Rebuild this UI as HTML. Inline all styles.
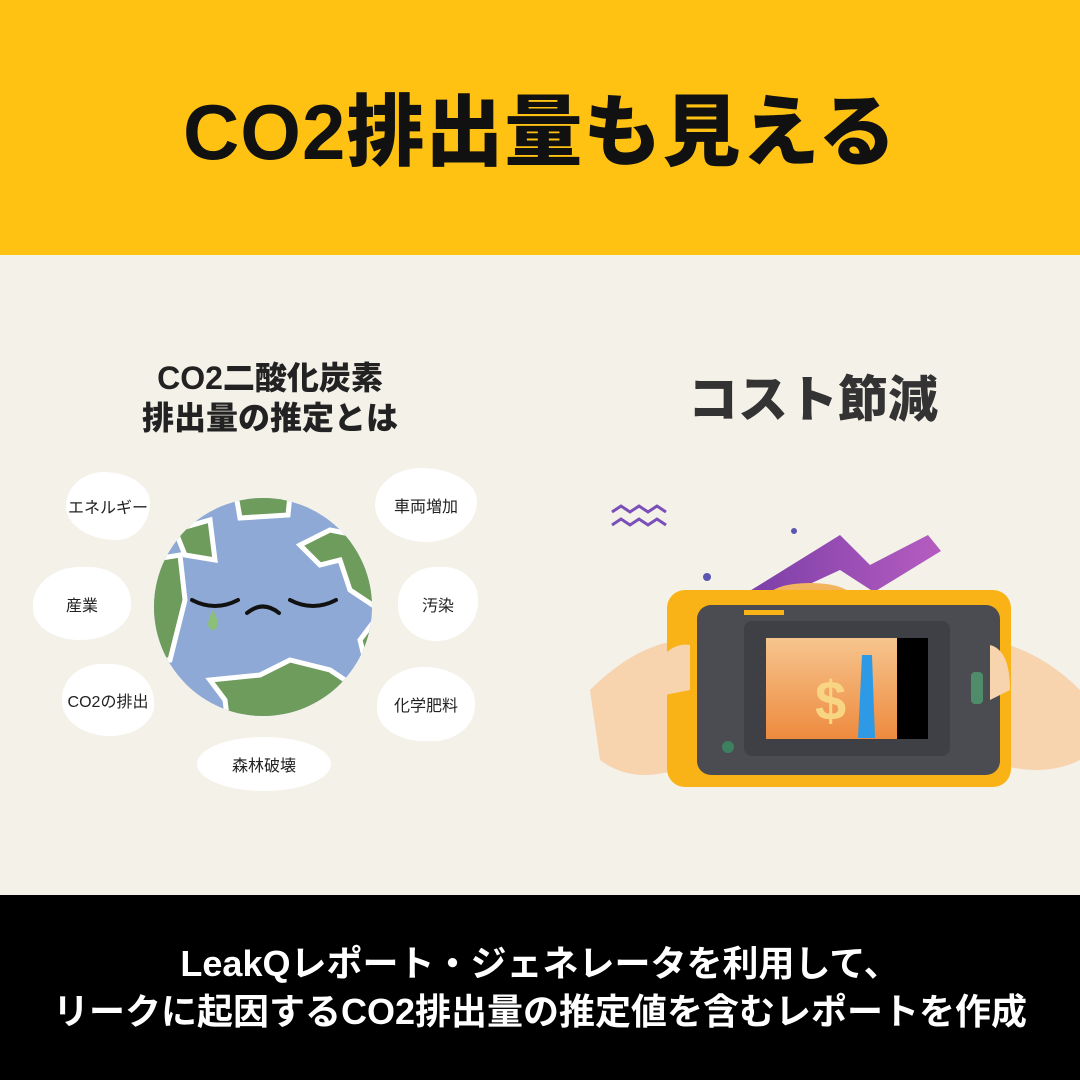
<!DOCTYPE html>
<html><head><meta charset="utf-8"><style>
*{margin:0;padding:0;box-sizing:border-box}
body{width:1080px;height:1080px;position:relative;overflow:hidden;background:#F4F1E9;font-family:"Liberation Sans","Noto Sans CJK JP",sans-serif}
.top{position:absolute;left:0;top:0;width:1080px;height:255px;background:#FFC213}
.top h1{position:absolute;left:0;width:1080px;top:70px;text-align:center;font-size:78px;font-weight:900;color:#111;letter-spacing:1px}
.bot{position:absolute;left:0;top:895px;width:1080px;height:185px;background:#000;color:#fff;text-align:center;font-size:36px;font-weight:700;line-height:48px}
.bot div{position:absolute;left:0;width:1080px}
.blob{position:absolute;background:#fff;display:flex;align-items:center;justify-content:center;font-size:16px;color:#222}
.h{position:absolute;font-weight:900;color:#222}
</style></head><body>
<div class="top"><h1>CO2排出量も見える</h1></div>

<div class="h" style="left:110px;top:358px;width:320px;text-align:center;font-size:32px;line-height:40px">CO2二酸化炭素<br>排出量の推定とは</div>
<div class="h" style="left:688px;top:360px;font-size:50px;color:#333">コスト節減</div>

<div class="blob" style="left:66px;top:472px;width:84px;height:68px;border-radius:45% 55% 40% 60%/50% 45% 55% 50%">エネルギー</div>
<div class="blob" style="left:33px;top:567px;width:98px;height:73px;border-radius:50% 45% 55% 50%/55% 50% 50% 45%">産業</div>
<div class="blob" style="left:62px;top:664px;width:92px;height:72px;border-radius:45% 50% 50% 55%/50% 55% 45% 50%">CO2の排出</div>
<div class="blob" style="left:197px;top:737px;width:134px;height:54px;border-radius:50%/50%">森林破壊</div>
<div class="blob" style="left:375px;top:468px;width:102px;height:74px;border-radius:45% 55% 50% 50%/50% 45% 55% 50%">車両増加</div>
<div class="blob" style="left:398px;top:567px;width:80px;height:74px;border-radius:50% 45% 55% 50%">汚染</div>
<div class="blob" style="left:377px;top:667px;width:98px;height:74px;border-radius:50% 55% 45% 50%/55% 50% 50% 45%">化学肥料</div>

<svg style="position:absolute;left:0;top:0" width="1080" height="1080">
 <defs><clipPath id="g"><circle cx="263" cy="607" r="109"/></clipPath>
 <linearGradient id="pa" x1="0" x2="1"><stop offset="0" stop-color="#7B3FA8"/><stop offset="1" stop-color="#B65CC0"/></linearGradient>
 <linearGradient id="scr" x1="0" y1="0" x2="0" y2="1"><stop offset="0" stop-color="#F6C58E"/><stop offset="1" stop-color="#EE8A3E"/></linearGradient></defs>
 <circle cx="263" cy="607" r="109" fill="#8EA9D6"/>
 <g clip-path="url(#g)" fill="#6E9C5C" stroke="#fff" stroke-width="5">
  <path d="M236 495 L290 495 L288 515 L240 518Z"/>
  <path d="M330 530 L380 540 L380 610 L350 590 L340 560 L320 565 L300 545Z"/>
  <path d="M150 560 L180 555 L185 600 L170 660 L150 660Z"/>
  <path d="M210 680 L260 675 L290 660 L330 670 L360 690 L350 740 L230 740 L225 700Z"/>
  <path d="M375 620 L360 640 L365 660 L380 655Z"/>
  <path d="M175 530 L210 520 L215 560 L185 555Z"/>
 </g>
 <g stroke="#111" stroke-width="4" fill="none" stroke-linecap="round">
  <path d="M192 600 Q215 612 238 600"/><path d="M290 600 Q313 612 336 600"/><path d="M247 613 Q263 600 279 613"/>
 </g>
 <path d="M213 610 Q203 628 213 630 Q223 628 213 610Z" fill="#8CBF7A"/>

 <path d="M612 512 l9-6 9 6 9-6 9 6 9-6 9 6 M612 525 l9-6 9 6 9-6 9 6 9-6 9 6" stroke="#7B4FB8" stroke-width="3" fill="none"/>
 <circle cx="707" cy="577" r="4" fill="#5A55B0"/><circle cx="794" cy="531" r="3" fill="#5A55B0"/>
 <path d="M748 592 L840 535 L870 565 L928 535 L941 551 L874 592 L840 570 L775 600Z" fill="url(#pa)"/>
 <ellipse cx="810" cy="595" rx="40" ry="12" fill="#F3B45E"/>
 <path d="M590 690 Q640 640 690 640 L700 760 Q640 790 600 760Z" fill="#F7D3AE"/>
 <path d="M1080 690 Q1040 650 990 640 L985 760 Q1040 780 1080 760Z" fill="#F7D3AE"/>
 <rect x="667" y="590" width="344" height="197" rx="18" fill="#F9B316"/>
 <rect x="697" y="605" width="303" height="170" rx="14" fill="#4A4C51"/>
 <rect x="744" y="621" width="206" height="135" rx="8" fill="#3E4045"/>
 <rect x="766" y="638" width="132" height="101" fill="url(#scr)"/>
 <rect x="897" y="638" width="31" height="101" fill="#000"/>
 <text x="815" y="720" font-size="56" font-weight="700" fill="#F8D583" font-family="Liberation Sans">$</text>
 <path d="M862 655 L872 655 L875 738 L858 738Z" fill="#2E9AE6"/>
 <rect x="744" y="610" width="40" height="5" fill="#F9B316"/>
 <rect x="971" y="672" width="12" height="32" rx="4" fill="#4E8C6A"/>
 <circle cx="728" cy="747" r="6" fill="#3C8060"/>
 <path d="M640 700 Q660 640 690 645 L690 690 Z" fill="#F7D3AE"/>
 <path d="M990 645 Q1010 650 1010 690 L990 700Z" fill="#F7D3AE"/>
</svg>

<div class="bot"><div style="top:45px">LeakQレポート・ジェネレータを利用して、</div><div style="top:93px">リークに起因するCO2排出量の推定値を含むレポートを作成</div></div>
</body></html>
